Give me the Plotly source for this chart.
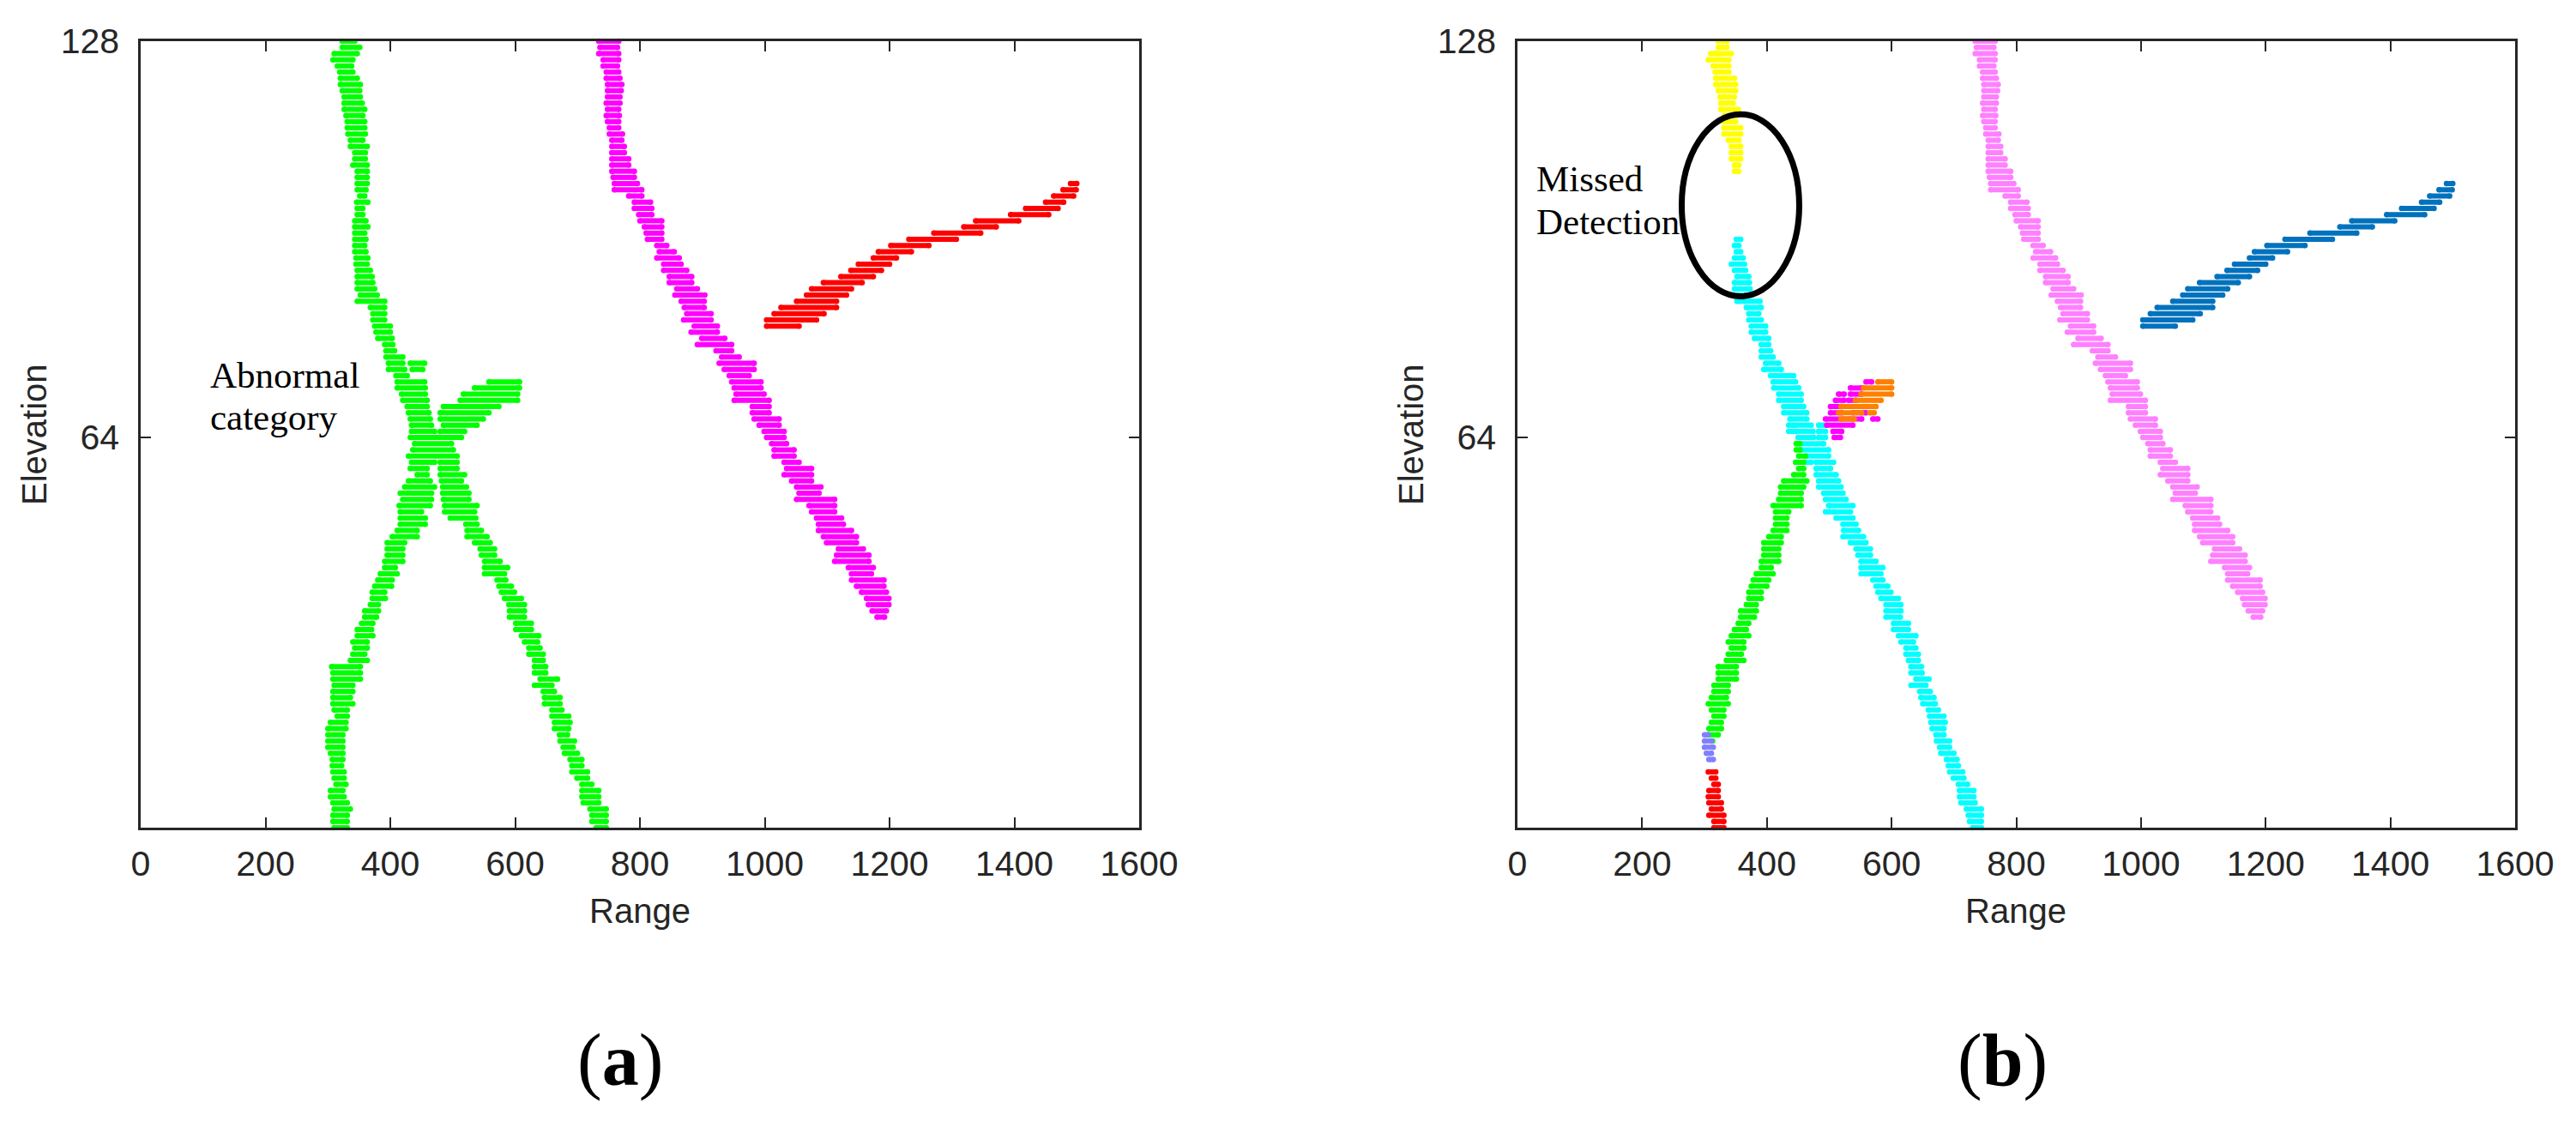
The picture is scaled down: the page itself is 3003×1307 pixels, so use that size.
import plotly.graph_objects as go

W, H = 3003, 1307

# ---------------- axes values ----------------
X_RANGE = [0, 1600]
Y_RANGE = [1, 128]
X_TICKS = [0, 200, 400, 600, 800, 1000, 1200, 1400, 1600]
Y_TICKS = [64, 128]

# ---------------- data: (elevation row, range start, range end) ----------------
# Panel (a)
A_GREEN_UPPER = [
    (128, 323, 343), (127, 323, 351), (126, 310, 347), (125, 308, 340), (124, 315, 338),
    (123, 319, 340), (122, 320, 347), (121, 320, 352), (120, 323, 351), (119, 326, 352),
    (118, 326, 355), (117, 326, 359), (116, 329, 356), (115, 331, 359), (114, 331, 359),
    (113, 332, 360), (112, 336, 356), (111, 336, 363), (110, 343, 360), (109, 343, 360),
    (108, 340, 363), (107, 347, 363), (106, 347, 363), (105, 347, 363), (104, 347, 361),
    (103, 351, 359), (102, 346, 364), (101, 347, 356), (100, 347, 356), (99, 343, 361),
    (98, 343, 364), (97, 343, 359), (96, 343, 361), (95, 343, 359), (94, 343, 361),
    (93, 345, 364), (92, 345, 363), (91, 347, 368), (90, 347, 371), (89, 347, 372),
    (88, 347, 375), (87, 352, 379), (86, 347, 391), (85, 368, 391), (84, 372, 391),
    (83, 372, 391), (82, 375, 400), (81, 377, 400), (80, 380, 403), (79, 391, 404),
    (78, 393, 407), (77, 393, 420), (76, 397, 420), (75, 397, 423), (74, 409, 427),
    (73, 411, 455), (72, 411, 456), (71, 418, 456), (70, 420, 459), (69, 427, 459),
    (68, 429, 462), (67, 432, 464), (66, 434, 466), (65, 434, 471),
    (76, 432, 455), (75, 435, 452),
]
A_GREEN_BRANCH = [
    (73, 558, 607), (72, 535, 607), (71, 517, 604), (70, 512, 604), (69, 485, 574),
    (68, 480, 558), (67, 480, 549), (66, 485, 539), (65, 480, 519),
]
A_GREEN_LOWER_LEFT = [
    (64, 432, 514), (63, 439, 498), (62, 436, 501), (61, 429, 507), (60, 434, 471),
    (59, 432, 459), (58, 443, 459), (57, 429, 464), (56, 423, 471), (55, 416, 466),
    (54, 420, 466), (53, 414, 464), (52, 416, 450), (51, 416, 456), (50, 416, 456),
    (49, 411, 443), (48, 403, 443), (47, 395, 423), (46, 395, 420), (45, 395, 420),
    (44, 391, 420), (43, 391, 408), (42, 384, 411), (41, 380, 403), (40, 375, 402),
    (39, 371, 391), (38, 371, 392), (37, 368, 381), (36, 359, 381), (35, 359, 378),
    (34, 354, 372), (33, 347, 370), (32, 347, 372), (31, 340, 363), (30, 343, 363),
    (29, 340, 359), (28, 336, 363), (27, 306, 352), (26, 308, 352), (25, 308, 352),
    (24, 310, 340), (23, 308, 340), (22, 308, 336), (21, 308, 340), (20, 310, 331),
    (19, 315, 331), (18, 304, 329), (17, 300, 329), (16, 300, 324), (15, 300, 324),
    (14, 300, 324), (13, 304, 324), (12, 307, 324), (11, 307, 322), (10, 308, 326),
    (9, 310, 326), (8, 313, 329), (7, 304, 324), (6, 304, 326), (5, 308, 331),
    (4, 310, 336), (3, 308, 331), (2, 308, 331), (1, 310, 331),
]
A_GREEN_LOWER_RIGHT = [
    (60, 480, 507), (59, 480, 507), (58, 480, 519), (57, 482, 514), (56, 484, 522),
    (55, 484, 526), (54, 485, 526), (53, 487, 539), (52, 487, 535), (51, 496, 537),
    (50, 521, 539), (49, 523, 546), (48, 523, 555), (47, 535, 560), (46, 544, 567),
    (45, 546, 567), (44, 551, 576), (43, 551, 588), (42, 551, 583), (41, 571, 585),
    (40, 574, 594), (39, 578, 599), (38, 583, 610), (37, 590, 615), (36, 591, 615),
    (35, 591, 615), (34, 601, 626), (33, 601, 626), (32, 610, 638), (31, 615, 636),
    (30, 622, 640), (29, 622, 645), (28, 631, 645), (27, 631, 649), (26, 631, 649),
    (25, 640, 668), (24, 631, 659), (23, 645, 663), (22, 647, 672), (21, 647, 672),
    (20, 659, 675), (19, 659, 686), (18, 663, 688), (17, 663, 686), (16, 671, 684),
    (15, 672, 695), (14, 677, 693), (13, 679, 700), (12, 688, 707), (11, 691, 707),
    (10, 691, 716), (9, 699, 716), (8, 707, 723), (7, 707, 734), (6, 707, 734),
    (5, 709, 734), (4, 720, 746), (3, 723, 746), (2, 723, 746), (1, 730, 746),
]
# shared by both panels (magenta / pink and red / blue targets)
TRACK_DIAGONAL = [
    (128, 734, 766), (127, 736, 764), (126, 734, 766), (125, 741, 766), (124, 741, 764),
    (123, 746, 766), (122, 746, 768), (121, 748, 771), (120, 748, 770), (119, 748, 768),
    (118, 746, 768), (117, 748, 766), (116, 746, 767), (115, 748, 766), (114, 751, 766),
    (113, 751, 772), (112, 755, 771), (111, 755, 775), (110, 755, 775), (109, 755, 782),
    (108, 755, 782), (107, 755, 791), (106, 757, 791), (105, 759, 796), (104, 759, 803),
    (103, 782, 803), (102, 791, 817), (101, 791, 819), (100, 798, 819), (99, 800, 835),
    (98, 807, 835), (97, 810, 835), (96, 812, 835), (95, 827, 843), (94, 831, 855),
    (93, 827, 863), (92, 838, 866), (91, 838, 875), (90, 847, 883), (89, 847, 883),
    (88, 859, 892), (87, 856, 904), (86, 866, 903), (85, 871, 903), (84, 875, 914),
    (83, 870, 914), (82, 887, 924), (81, 882, 924), (80, 899, 936), (79, 892, 947),
    (78, 922, 947), (77, 931, 959), (76, 927, 983), (75, 935, 983), (74, 943, 975),
    (73, 947, 994), (72, 951, 994), (71, 954, 999), (70, 951, 1007), (69, 980, 1007),
    (68, 980, 1007), (67, 983, 1023), (66, 991, 1023), (65, 999, 1031), (64, 1003, 1031),
    (63, 1011, 1035), (62, 1015, 1047), (61, 1015, 1047), (60, 1031, 1055), (59, 1035, 1075),
    (58, 1031, 1075), (57, 1043, 1075), (56, 1051, 1090), (55, 1055, 1087), (54, 1051, 1112),
    (53, 1071, 1112), (52, 1075, 1112), (51, 1083, 1123), (50, 1086, 1126), (49, 1086, 1139),
    (48, 1094, 1147), (47, 1099, 1147), (46, 1118, 1158), (45, 1115, 1167), (44, 1112, 1167),
    (43, 1134, 1174), (42, 1139, 1171), (41, 1139, 1191), (40, 1147, 1191), (39, 1155, 1195),
    (38, 1163, 1199), (37, 1166, 1199), (36, 1172, 1195), (35, 1180, 1192),
]
TRACK_RISING = [
    (105, 1490, 1500), (104, 1478, 1499), (103, 1463, 1495), (102, 1450, 1479),
    (101, 1418, 1470), (100, 1394, 1455), (99, 1338, 1407), (98, 1319, 1371),
    (97, 1271, 1346), (96, 1231, 1307), (95, 1202, 1263), (94, 1182, 1235),
    (93, 1174, 1211), (92, 1150, 1200), (91, 1138, 1187), (90, 1122, 1174),
    (89, 1094, 1156), (88, 1075, 1139), (87, 1067, 1131), (86, 1051, 1115),
    (85, 1026, 1115), (84, 1015, 1095), (83, 1003, 1083), (82, 1003, 1055),
]

# Panel (b)
B_YELLOW = [
    (128, 322, 336), (127, 322, 336), (126, 310, 318), (126, 322, 343), (125, 306, 339),
    (124, 314, 339), (123, 317, 339), (122, 318, 348), (121, 318, 350), (120, 322, 350),
    (119, 325, 348), (118, 326, 346), (117, 326, 354), (116, 332, 352), (115, 331, 350),
    (114, 331, 358), (113, 331, 358), (112, 338, 355), (111, 343, 358), (110, 343, 358),
    (109, 343, 358), (108, 348, 355), (107, 348, 355),
]
B_CYAN = [
    (96, 351, 358), (95, 348, 355), (94, 351, 358), (93, 348, 362), (92, 343, 364),
    (91, 348, 366), (90, 352, 371), (89, 348, 372), (88, 348, 373), (87, 348, 373),
    (86, 352, 357), (86, 363, 389), (85, 367, 391), (84, 371, 387), (83, 371, 391),
    (82, 375, 398), (81, 375, 398), (80, 380, 403), (79, 391, 403), (78, 391, 406),
    (77, 391, 410), (76, 398, 419), (75, 395, 423), (74, 406, 443), (73, 410, 446),
    (72, 411, 451), (71, 419, 455), (70, 419, 455), (69, 427, 459), (68, 427, 464),
    (67, 437, 464), (66, 435, 442), (66, 446, 471), (66, 483, 492), (65, 435, 442),
    (65, 446, 474), (65, 483, 494), (64, 450, 475), (64, 483, 494), (63, 450, 491),
    (62, 455, 499), (61, 464, 499), (60, 462, 471), (60, 479, 507), (59, 479, 502),
    (58, 479, 511), (57, 483, 515), (56, 483, 519), (55, 491, 522), (54, 494, 527),
    (53, 499, 538), (52, 494, 501), (52, 507, 534), (51, 511, 538), (50, 522, 543),
    (49, 523, 547), (48, 522, 555), (47, 534, 559), (46, 543, 566), (45, 546, 566),
    (44, 551, 575), (43, 551, 586), (42, 551, 559), (42, 563, 583), (41, 570, 586),
    (40, 575, 594), (39, 578, 599), (38, 583, 611), (37, 591, 615), (36, 591, 615),
    (35, 591, 614), (34, 603, 627), (33, 603, 627), (32, 611, 639), (31, 615, 635),
    (30, 623, 639), (29, 623, 643), (28, 627, 643), (27, 631, 648), (26, 631, 649),
    (25, 639, 660), (24, 631, 655), (23, 645, 662), (22, 647, 668), (21, 650, 670),
    (20, 659, 675), (19, 661, 684), (18, 663, 686), (17, 665, 684), (16, 671, 684),
    (15, 672, 693), (14, 677, 693), (13, 679, 700), (12, 688, 705), (11, 691, 707),
    (10, 693, 714), (9, 699, 716), (8, 707, 722), (7, 709, 732), (6, 709, 732),
    (5, 711, 734), (4, 720, 744), (3, 723, 744), (2, 725, 744), (1, 730, 744),
]
B_GREEN = [
    (63, 447, 453), (62, 447, 453), (61, 451, 462), (60, 446, 459), (59, 451, 459),
    (58, 443, 459), (57, 427, 464), (56, 422, 459), (55, 422, 455), (54, 419, 455),
    (53, 410, 455), (52, 414, 435), (51, 414, 432), (50, 414, 432), (49, 410, 432),
    (48, 403, 423), (47, 395, 423), (46, 395, 419), (45, 395, 419), (44, 391, 419),
    (43, 391, 407), (42, 383, 410), (41, 378, 403), (40, 375, 400), (39, 371, 391),
    (38, 371, 391), (37, 367, 383), (36, 358, 383), (35, 358, 380), (34, 354, 371),
    (33, 348, 367), (32, 343, 371), (31, 338, 363), (30, 343, 363), (29, 338, 359),
    (28, 335, 363), (27, 322, 351), (26, 322, 351), (25, 322, 351), (24, 315, 338),
    (23, 315, 338), (22, 311, 335), (21, 306, 338), (20, 311, 331), (19, 315, 331),
    (18, 311, 327), (17, 307, 327), (16, 306, 322), (15, 311, 313),
]
B_PURPLE = [(16, 300, 306), (15, 300, 311), (14, 300, 314), (13, 303, 311), (12, 307, 314)]
B_RED = [
    (10, 306, 318), (9, 311, 318), (8, 315, 322), (7, 307, 322), (6, 306, 322),
    (5, 307, 327), (4, 311, 327), (3, 307, 331), (2, 315, 331), (1, 315, 331),
]
B_MAGENTA = [
    (73, 559, 568), (72, 534, 552), (71, 515, 524), (71, 534, 552), (70, 510, 524),
    (70, 531, 543), (69, 502, 520), (68, 502, 520), (68, 538, 559), (67, 494, 552),
    (67, 570, 578), (66, 496, 538), (65, 506, 520), (64, 508, 518),
]
B_ORANGE = [
    (73, 578, 600), (72, 555, 600), (71, 551, 600), (70, 542, 583), (69, 519, 555),
    (69, 560, 575), (68, 515, 552), (68, 565, 572), (67, 519, 540),
]

PANEL_A = [
    ("#00FF00", A_GREEN_UPPER + A_GREEN_BRANCH + A_GREEN_LOWER_LEFT + A_GREEN_LOWER_RIGHT),
    ("#FF00FF", TRACK_DIAGONAL),
    ("#FF0000", TRACK_RISING),
]
PANEL_B = [
    ("#FFFF00", B_YELLOW),
    ("#00FFFF", B_CYAN),
    ("#00FF00", B_GREEN),
    ("#8080FF", B_PURPLE),
    ("#FF0000", B_RED),
    ("#FF00FF", B_MAGENTA),
    ("#FF8000", B_ORANGE),
    ("#FF80FF", TRACK_DIAGONAL),
    ("#0072BD", TRACK_RISING),
]

# ---------------- figure ----------------
fig = go.Figure()


def add_rows(rows, color, xa, ya):
    xs, ys = [], []
    for e, a, b in rows:
        xs += [a, b, None]
        ys += [e, e, None]
    fig.add_trace(go.Scatter(
        x=xs, y=ys, mode="lines+markers", xaxis=xa, yaxis=ya,
        line=dict(color=color, width=6),
        marker=dict(color=color, size=6.5, line=dict(width=0)),
        cliponaxis=False, showlegend=False, hoverinfo="skip",
    ))


for color, rows in PANEL_A:
    add_rows(rows, color, "x", "y")
for color, rows in PANEL_B:
    add_rows(rows, color, "x2", "y2")

AX = "#262626"
TICKFONT = dict(family="Liberation Sans, Arial, sans-serif", size=41, color=AX)
common_x = dict(range=X_RANGE, tickvals=X_TICKS, ticks="inside", ticklen=12, tickwidth=2,
                tickcolor=AX, showline=True, linewidth=2.5, linecolor=AX, mirror="ticks",
                showgrid=False, zeroline=False, tickfont=TICKFONT, ticklabelstandoff=4,
                automargin=False)
common_y = dict(range=Y_RANGE, tickvals=Y_TICKS, ticks="inside", ticklen=12, tickwidth=2,
                tickcolor=AX, showline=True, linewidth=2.5, linecolor=AX, mirror="ticks",
                showgrid=False, zeroline=False, tickfont=TICKFONT, ticklabelstandoff=14,
                automargin=False)

ydom = [1 - 965 / H, 1 - 48 / H]
fig.update_layout(
    width=W, height=H, autosize=False,
    margin=dict(l=0, r=0, t=0, b=0, pad=0),
    paper_bgcolor="white", plot_bgcolor="white",
    xaxis=dict(domain=[164 / W, 1328 / W], anchor="y", **common_x),
    yaxis=dict(domain=ydom, anchor="x", **common_y),
    xaxis2=dict(domain=[1769 / W, 2932 / W], anchor="y2", **common_x),
    yaxis2=dict(domain=ydom, anchor="x2", **common_y),
)

LABELFONT = dict(family="Liberation Sans, Arial, sans-serif", size=40, color=AX)
SERIF = "Liberation Serif, Times New Roman, serif"
NOTEFONT = dict(family=SERIF, size=43, color="black")


def ann(text, px, py, font, xanchor="center", angle=0):
    fig.add_annotation(text=text, x=px / W, y=1 - py / H, xref="paper", yref="paper",
                       showarrow=False, xanchor=xanchor, yanchor="middle", font=font,
                       textangle=angle)


ann("Range", 746, 1062, LABELFONT)
ann("Range", 2350, 1062, LABELFONT)
ann("Elevation", 40, 507, LABELFONT, angle=-90)
ann("Elevation", 1645, 507, LABELFONT, angle=-90)
ann("(<b>a</b>)", 723, 1236, dict(family=SERIF, size=86, color="black"))
ann("(<b>b</b>)", 2334, 1236, dict(family=SERIF, size=86, color="black"))
ann("Abnormal", 243, 437, NOTEFONT, xanchor="left")
ann("category", 243, 486, NOTEFONT, xanchor="left")
ann("Missed", 1789, 208, NOTEFONT, xanchor="left")
ann("Detection", 1789, 258, NOTEFONT, xanchor="left")

fig.add_shape(type="circle", xref="x2", yref="y2", x0=263.4, x1=451.9, y0=86.8, y1=116.2,
              line=dict(color="black", width=7))

fig.write_html("out.html", config={"displayModeBar": False},
               post_script="document.body.style.margin='0';")
